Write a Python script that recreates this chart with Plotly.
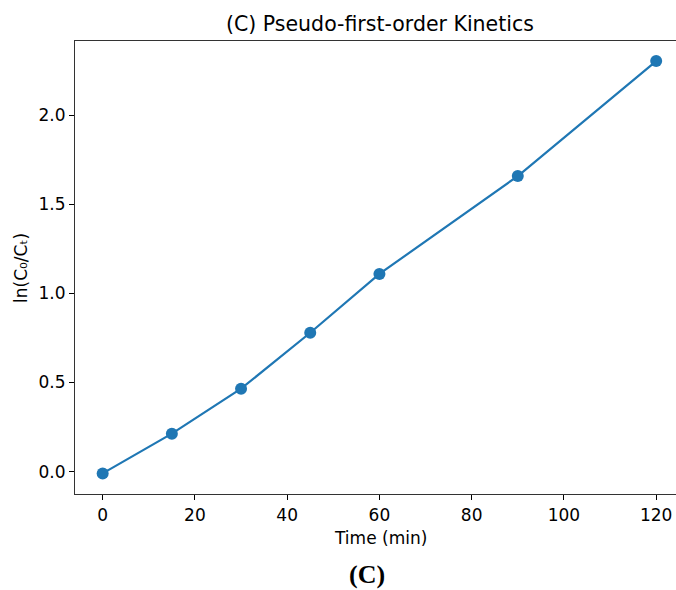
import plotly.graph_objects as go

time_min = [0, 15, 30, 45, 60, 90, 120]
ln_c0_ct = [-0.01, 0.213, 0.465, 0.779, 1.109, 1.658, 2.303]
x_ticks = [0, 20, 40, 60, 80, 100, 120]
y_ticks = [0.0, 0.5, 1.0, 1.5, 2.0]
y_tick_text = ["0.0", "0.5", "1.0", "1.5", "2.0"]

W, H = 676, 590
L, R, T, B = 75, 0, 41, 96
pw = W - L - R
ph = H - T - B

fig = go.Figure()
fig.add_trace(go.Scatter(
    x=time_min, y=ln_c0_ct, mode="lines+markers",
    line=dict(color="#1f77b4", width=2.2),
    marker=dict(color="#1f77b4", size=12),
    showlegend=False,
))

def px_x(p):
    return (p - L) / pw

def px_y(p):
    return (H - B - p) / ph

font = dict(family="DejaVu Sans", size=17, color="black")

fig.update_layout(
    width=W, height=H,
    margin=dict(l=L, r=R, t=T, b=B),
    plot_bgcolor="white", paper_bgcolor="white",
    font=font,
    xaxis=dict(
        range=[-6, 124.3], tickvals=x_ticks, ticks="outside", ticklen=5,
        tickwidth=1, tickcolor="black", showgrid=False, zeroline=False,
        showline=True, linecolor="#333", linewidth=1.2, mirror=True,
        tickfont=dict(size=17),
    ),
    yaxis=dict(
        range=[-0.1255, 2.4155], tickvals=y_ticks, ticktext=y_tick_text,
        ticks="outside", ticklen=5, tickwidth=1, tickcolor="black",
        showgrid=False, zeroline=False, showline=True, linecolor="#333",
        linewidth=1.2, mirror=False, tickfont=dict(size=17),
    ),
    annotations=[
        dict(text="(C) Pseudo-first-order Kinetics", xref="paper", yref="paper",
             x=px_x(380), y=px_y(24), showarrow=False, xanchor="center",
             yanchor="middle", font=dict(family="DejaVu Sans", size=20.5)),
        dict(text="Time (min)", xref="paper", yref="paper",
             x=px_x(380), y=px_y(538), showarrow=False, xanchor="center",
             yanchor="middle", font=dict(family="DejaVu Sans", size=17)),
        dict(text="ln(C₀/Cₜ)", xref="paper", yref="paper",
             x=px_x(21), y=px_y(268), showarrow=False, xanchor="center",
             yanchor="middle", textangle=-90,
             font=dict(family="DejaVu Sans", size=17)),
        dict(text="<b>(C)</b>", xref="paper", yref="paper",
             x=px_x(367), y=px_y(590), showarrow=False, xanchor="center",
             yanchor="bottom", borderpad=0,
             font=dict(family="Liberation Serif", size=26)),
    ],
)

fig.write_html("out.html")
